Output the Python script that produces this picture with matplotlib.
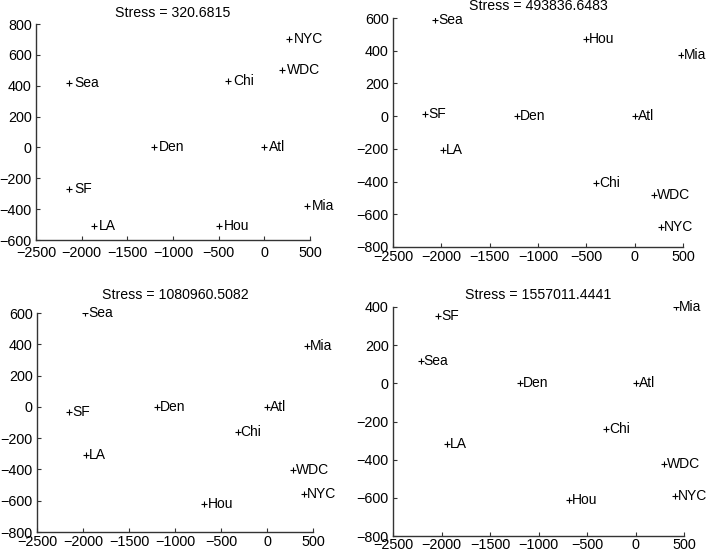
import matplotlib
matplotlib.use("Agg")
import matplotlib.pyplot as plt

plt.rcParams['font.family'] = ['Liberation Sans', 'DejaVu Sans']

cities = ["NYC", "WDC", "Chi", "Sea", "Den", "Atl", "SF", "Mia", "LA", "Hou"]

titles = ["Stress = 320.6815", "Stress = 493836.6483",
          "Stress = 1080960.5082", "Stress = 1557011.4441"]

x1 = [267, 195, -400, -2140, -1210, 0, -2135, 465, -1870, -500]
y1 = [700, 502, 430, 415, 0, 0, -267, -377, -510, -510]

x2 = [272, 197, -395, -2065, -1215, 0, -2170, 475, -1980, -500]
y2 = [-675, -485, -410, 590, 0, 0, 14, 375, -205, 470]

x3 = [405, 286, -320, -1980, -1200, 0, -2150, 435, -1970, -680]
y3 = [-555, -405, -162, 600, 0, 0, -35, 388, -310, -620]

x4 = [405, 290, -300, -2215, -1190, 0, -2035, 415, -1945, -685]
y4 = [-590, -423, -240, 117, 0, 0, 353, 400, -318, -613]

xs = [x1, x2, x3, x4]
ys = [y1, y2, y3, y4]

ylims = [(-600, 800), (-800, 600), (-800, 600), (-800, 400)]
yticks = [list(range(-600, 801, 200)), list(range(-800, 601, 200)),
          list(range(-800, 601, 200)), list(range(-800, 401, 200))]
xticks = list(range(-2500, 501, 500))

W, H = 707, 556
# axes boxes in pixels: left, top, right, bottom
boxes = [(36, 24, 310, 240), (393, 18, 683, 247),
         (37, 313, 313, 532), (393, 307, 684, 536)]
title_y = [13, 6, 295, 295]
text_off = [5, 3, 3, 3]
xpads = [4.0, 2.5, 1.8, 1.2]

fig = plt.figure(figsize=(W / 100, H / 100), dpi=100)
axc = '#333333'
for i in range(4):
    l, t, r, b = boxes[i]
    ax = fig.add_axes([l / W, 1 - b / H, (r - l) / W, (b - t) / H])
    ax.plot(xs[i], ys[i], '+', color='black', markersize=4, markeredgewidth=0.8)
    for cx, cy, name in zip(xs[i], ys[i], cities):
        ax.annotate(name, (cx, cy), xytext=(text_off[i], 0), textcoords='offset pixels',
                    va='center', ha='left', fontsize=10, color='black')
    ax.set_xlim(-2500, 500)
    ax.set_ylim(*ylims[i])
    ax.set_xticks(xticks)
    ax.set_yticks(yticks[i])
    ax.set_xticklabels([f"{v}".replace('-', '\u2212') for v in xticks])
    ax.set_yticklabels([f"{v}".replace('-', '\u2212') for v in yticks[i]])
    for s in ['top', 'right']:
        ax.spines[s].set_visible(False)
    for s in ['left', 'bottom']:
        ax.spines[s].set_color(axc)
        ax.spines[s].set_linewidth(1.0)
    ax.tick_params(direction='in', length=3, width=0.8, color=axc,
                   labelsize=10.4, labelcolor='black')
    ax.tick_params(axis='x', pad=xpads[i])
    ax.tick_params(axis='y', pad=3)
    ax.patch.set_alpha(0)
    fig.text(((l + r) / 2) / W, 1 - title_y[i] / H, titles[i], ha='center',
             va='center', fontsize=10.2)

fig.savefig("out.png", dpi=100)
